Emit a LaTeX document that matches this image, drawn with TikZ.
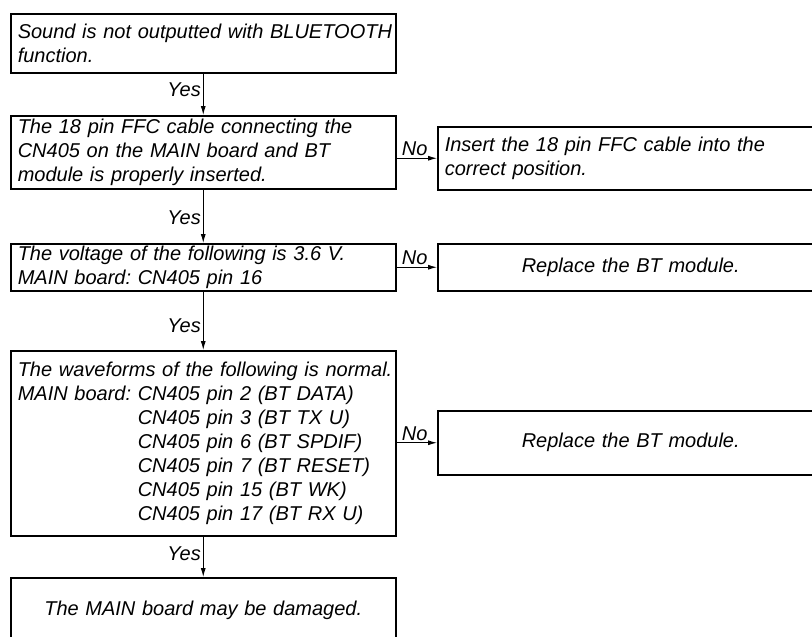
\documentclass[tikz,border=0pt]{standalone}
\usepackage{fontspec}
\setmainfont{Liberation Sans}
\usetikzlibrary{arrows.meta,calc}
\begin{document}
\frenchspacing
\begin{tikzpicture}[x=1pt,y=-1pt,
  box/.style={draw, line width=1.5pt, rectangle, anchor=north west, inner xsep=7pt, inner ysep=0pt,
    font=\fontsize{20}{24}\selectfont\itshape, align=left},
  arr/.style={line width=1pt, -{Latex[length=9pt,width=5pt]}},
  lbl/.style={font=\fontsize{20}{24}\selectfont\itshape, inner sep=2pt}]
\useasboundingbox (0,0) rectangle (812,637);
\node[box, minimum width=385pt, minimum height=59pt, text width=371pt] (b1) at (10,13)
  {\mbox{Sound is not outputted with BLUETOOTH}\\function.};
\node[box, minimum width=385pt, minimum height=73pt, text width=371pt] (b2) at (10,115)
  {\mbox{The 18 pin FFC cable connecting the}\\\mbox{CN405 on the MAIN board and BT}\\\mbox{module is properly inserted.}};
\node[box, minimum width=386pt, minimum height=63pt, text width=372pt] (r2) at (437,126)
  {\mbox{Insert the 18 pin FFC cable into the}\\\mbox{correct position.}};
\node[box, minimum width=385pt, minimum height=47pt, text width=371pt] (b3) at (10,243)
  {\mbox{The voltage of the following is 3.6 V.}\\\mbox{MAIN board: CN405 pin 16}};
\node[box, minimum width=386pt, minimum height=47pt, text width=372pt, align=center] (r3) at (437,243)
  {Replace the BT module.};
\node[box, minimum width=385pt, minimum height=185pt, text width=371pt] (b4) at (10,350)
  {\mbox{The waveforms of the following is normal.}\\
   \mbox{MAIN board: CN405 pin 2 (BT DATA)}\\
   \mbox{\phantom{MAIN board: }CN405 pin 3 (BT TX U)}\\
   \mbox{\phantom{MAIN board: }CN405 pin 6 (BT SPDIF)}\\
   \mbox{\phantom{MAIN board: }CN405 pin 7 (BT RESET)}\\
   \mbox{\phantom{MAIN board: }CN405 pin 15 (BT WK)}\\
   \mbox{\phantom{MAIN board: }CN405 pin 17 (BT RX U)}};
\node[box, minimum width=386pt, minimum height=64pt, text width=372pt, align=center] (r4) at (437,410)
  {Replace the BT module.};
\node[box, minimum width=385pt, minimum height=66pt, text width=371pt, align=center] (b5) at (10,577)
  {The MAIN board may be damaged.};
\draw[arr] (b1) -- node[lbl, pos=0.40, anchor=east] {Yes} (b2);
\draw[arr] (b2) -- node[lbl, pos=0.53, anchor=east] {Yes} (b3);
\draw[arr] (b3) -- node[lbl, pos=0.58, anchor=east] {Yes} (b4);
\draw[arr] (b4) -- node[lbl, pos=0.43, anchor=east] {Yes} (b5);
\draw[arr] (r2.west -| b2.east) -- node[lbl, pos=0.45, anchor=south] {No} (r2.west);
\draw[arr] (r3.west -| b3.east) -- node[lbl, pos=0.45, anchor=south] {No} (r3.west);
\draw[arr] (r4.west -| b4.east) -- node[lbl, pos=0.45, anchor=south] {No} (r4.west);
\end{tikzpicture}
\end{document}
